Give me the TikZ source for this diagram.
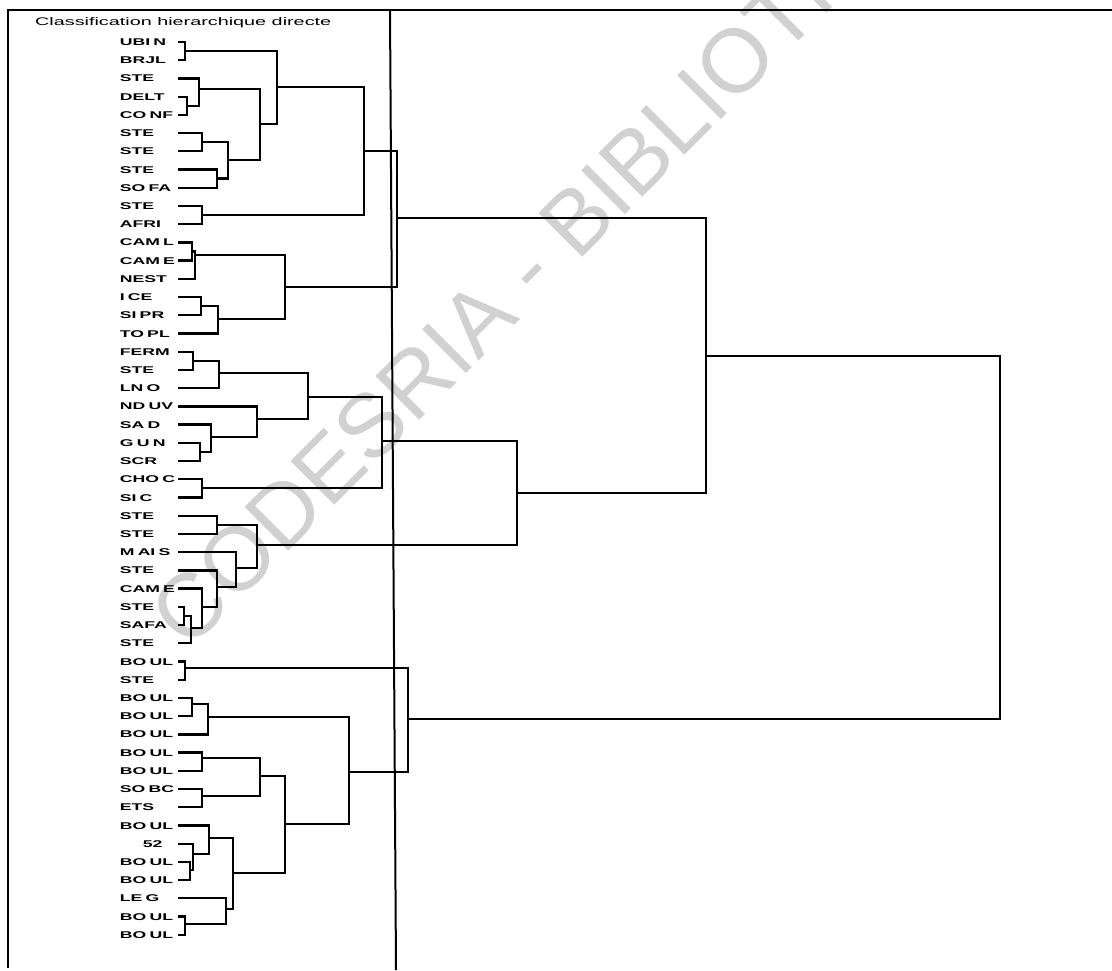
\documentclass[tikz,border=0pt]{standalone}
\usepackage{fontspec}
\newfontfamily\leaffont{Liberation Sans}[FakeStretch=1.8]
\newfontfamily\wmfont{Liberation Sans}

\begin{document}
\begin{tikzpicture}[x=1pt,y=-1pt,
    leaf/.style={anchor=east,inner sep=0pt,text width=58pt,align=left,
      text height=7pt,text depth=0pt,
      font=\leaffont\bfseries\fontsize{9.8}{10}\selectfont},
    link/.style={line width=2.3pt},
    frame/.style={line width=2pt}]
    \useasboundingbox (0,0) rectangle (1112,970);

    % Watermark
    \begin{scope}
      \clip (0,0) rectangle (1112,970);
      \node[anchor=base west,rotate=45,inner sep=0pt,text=black!18,
        font=\wmfont\fontsize{90}{90}\selectfont] (wm) at (188,652) {CODESRIA - BIBLIOTHEQUE};
    \end{scope}

    % Frame
    \draw[frame] (8,968) -- (8,10) -- (1112,10);
    \draw[frame] (390,10) -- (396,970);
    \node[anchor=west,inner sep=0pt,
      font=\leaffont\fontsize{11}{11}\selectfont] (title) at (35,23) {Classification hierarchique directe};

    % Leaves
    \node[leaf] (l0) at (178,42.0) {UBI N};
    \node[leaf] (l1) at (178,60.2) {BRJL};
    \node[leaf] (l2) at (178,78.4) {STE};
    \node[leaf] (l3) at (178,96.7) {DELT};
    \node[leaf] (l4) at (178,114.9) {CO NF};
    \node[leaf] (l5) at (178,133.1) {STE};
    \node[leaf] (l6) at (178,151.3) {STE};
    \node[leaf] (l7) at (178,169.5) {STE};
    \node[leaf] (l8) at (178,187.8) {SO FA};
    \node[leaf] (l9) at (178,206.0) {STE};
    \node[leaf] (l10) at (178,224.2) {AFRI};
    \node[leaf] (l11) at (178,242.4) {CAM L};
    \node[leaf] (l12) at (178,260.6) {CAM E};
    \node[leaf] (l13) at (178,278.9) {NEST};
    \node[leaf] (l14) at (178,297.1) {I CE};
    \node[leaf] (l15) at (178,315.3) {SI PR};
    \node[leaf] (l16) at (178,333.5) {TO PL};
    \node[leaf] (l17) at (178,351.7) {FERM};
    \node[leaf] (l18) at (178,370.0) {STE};
    \node[leaf] (l19) at (178,388.2) {LN O};
    \node[leaf] (l20) at (178,406.4) {ND UV};
    \node[leaf] (l21) at (178,424.6) {SA D};
    \node[leaf] (l22) at (178,442.8) {G U N};
    \node[leaf] (l23) at (178,461.1) {SCR};
    \node[leaf] (l24) at (178,479.3) {CHO C};
    \node[leaf] (l25) at (178,497.5) {SI C};
    \node[leaf] (l26) at (178,515.7) {STE};
    \node[leaf] (l27) at (178,533.9) {STE};
    \node[leaf] (l28) at (178,552.2) {M AI S};
    \node[leaf] (l29) at (178,570.4) {STE};
    \node[leaf] (l30) at (178,588.6) {CAM E};
    \node[leaf] (l31) at (178,606.8) {STE};
    \node[leaf] (l32) at (178,625.0) {SAFA};
    \node[leaf] (l33) at (178,643.3) {STE};
    \node[leaf] (l34) at (178,661.5) {BO UL};
    \node[leaf] (l35) at (178,679.7) {STE};
    \node[leaf] (l36) at (178,697.9) {BO UL};
    \node[leaf] (l37) at (178,716.1) {BO UL};
    \node[leaf] (l38) at (178,734.4) {BO UL};
    \node[leaf] (l39) at (178,752.6) {BO UL};
    \node[leaf] (l40) at (178,770.8) {BO UL};
    \node[leaf] (l41) at (178,789.0) {SO BC};
    \node[leaf] (l42) at (178,807.2) {ETS};
    \node[leaf] (l43) at (178,825.5) {BO UL};
    \node[leaf] (l44) at (178,843.7) {\hspace*{23pt}52};
    \node[leaf] (l45) at (178,861.9) {BO UL};
    \node[leaf] (l46) at (178,880.1) {BO UL};
    \node[leaf] (l47) at (178,898.3) {LE G};
    \node[leaf] (l48) at (178,916.6) {BO UL};
    \node[leaf] (l49) at (178,934.8) {BO UL};

    % Merge points
    \coordinate (a1) at (185,51);
    \coordinate (a2) at (187,106);
    \coordinate (a3) at (199,89);
    \coordinate (a4) at (202,142);
    \coordinate (a5) at (217,178.5);
    \coordinate (a6) at (228,160);
    \coordinate (a7) at (260,124);
    \coordinate (a8) at (277,87);
    \coordinate (a9) at (202,215);
    \coordinate (a10) at (364,151);
    \coordinate (b1) at (192,251.5);
    \coordinate (b2) at (195,255);
    \coordinate (b3) at (201,306);
    \coordinate (b4) at (218,319);
    \coordinate (b5) at (285,287);
    \coordinate (ab) at (397,218);
    \coordinate (c1) at (193,361);
    \coordinate (c2) at (219,373);
    \coordinate (c3) at (200,452);
    \coordinate (c4) at (211,437);
    \coordinate (c5) at (257,419);
    \coordinate (c6) at (308,397);
    \coordinate (c7) at (202,488);
    \coordinate (c8) at (382,441);
    \coordinate (d1) at (217,525);
    \coordinate (d2) at (184,616);
    \coordinate (d3) at (191,628);
    \coordinate (d4) at (202,607);
    \coordinate (d5) at (217,587);
    \coordinate (d6) at (236,568);
    \coordinate (d7) at (257,545);
    \coordinate (cd) at (517,493);
    \coordinate (top) at (706,356);
    \coordinate (e1) at (185,668);
    \coordinate (e2) at (192,704);
    \coordinate (e3) at (208,717);
    \coordinate (e4) at (202,758);
    \coordinate (e5) at (202,796);
    \coordinate (e6) at (260,776);
    \coordinate (e7) at (190,870);
    \coordinate (e8) at (193,854);
    \coordinate (e9) at (209,838);
    \coordinate (e10) at (185,924);
    \coordinate (e11) at (226,909);
    \coordinate (e12) at (233,873);
    \coordinate (e13) at (285,824);
    \coordinate (e14) at (349,772);
    \coordinate (e15) at (408,719);
    \coordinate (root) at (1000,537);

    % First group
    \draw[link] (l0.east) -| (a1) |- (l1.east);
    \draw[link] (l3.east) -| (a2) |- (l4.east);
    \draw[link] (l2.east) -| (a3) |- (a2);
    \draw[link] (l5.east) -| (a4) |- (l6.east);
    \draw[link] (l7.east) -| (a5) |- (l8.east);
    \draw[link] (a4) -| (a6) |- (a5);
    \draw[link] (a3) -| (a7) |- (a6);
    \draw[link] (a1) -| (a8) |- (a7);
    \draw[link] (l9.east) -| (a9) |- (l10.east);
    \draw[link] (a8) -| (a10) |- (a9);
    \draw[link] (l11.east) -| (b1) |- (l12.east);
    \draw[link] (b1) -| (b2) |- (l13.east);
    \draw[link] (l14.east) -| (b3) |- (l15.east);
    \draw[link] (b3) -| (b4) |- (l16.east);
    \draw[link] (b2) -| (b5) |- (b4);
    \draw[link] (a10) -| (ab) |- (b5);

    % Second group
    \draw[link] (l17.east) -| (c1) |- (l18.east);
    \draw[link] (c1) -| (c2) |- (l19.east);
    \draw[link] (l22.east) -| (c3) |- (l23.east);
    \draw[link] (l21.east) -| (c4) |- (c3);
    \draw[link] (l20.east) -| (c5) |- (c4);
    \draw[link] (c2) -| (c6) |- (c5);
    \draw[link] (l24.east) -| (c7) |- (l25.east);
    \draw[link] (c6) -| (c8) |- (c7);
    \draw[link] (l26.east) -| (d1) |- (l27.east);
    \draw[link] (l31.east) -| (d2) |- (l32.east);
    \draw[link] (d2) -| (d3) |- (l33.east);
    \draw[link] (l30.east) -| (d4) |- (d3);
    \draw[link] (l29.east) -| (d5) |- (d4);
    \draw[link] (l28.east) -| (d6) |- (d5);
    \draw[link] (d1) -| (d7) |- (d6);
    \draw[link] (c8) -| (cd) |- (d7);
    \draw[link] (ab) -| (top) |- (cd);

    % Third group
    \draw[link] (l34.east) -| (e1) |- (l35.east);
    \draw[link] (l36.east) -| (e2) |- (l37.east);
    \draw[link] (e2) -| (e3) |- (l38.east);
    \draw[link] (l39.east) -| (e4) |- (l40.east);
    \draw[link] (l41.east) -| (e5) |- (l42.east);
    \draw[link] (e4) -| (e6) |- (e5);
    \draw[link] (l45.east) -| (e7) |- (l46.east);
    \draw[link] (l44.east) -| (e8) |- (e7);
    \draw[link] (l43.east) -| (e9) |- (e8);
    \draw[link] (l48.east) -| (e10) |- (l49.east);
    \draw[link] (l47.east) -| (e11) |- (e10);
    \draw[link] (e9) -| (e12) |- (e11);
    \draw[link] (e6) -| (e13) |- (e12);
    \draw[link] (e3) -| (e14) |- (e13);
    \draw[link] (e1) -| (e15) |- (e14);

    % Root
    \draw[link] (top) -| (root) |- (e15);
\end{tikzpicture}
\end{document}
